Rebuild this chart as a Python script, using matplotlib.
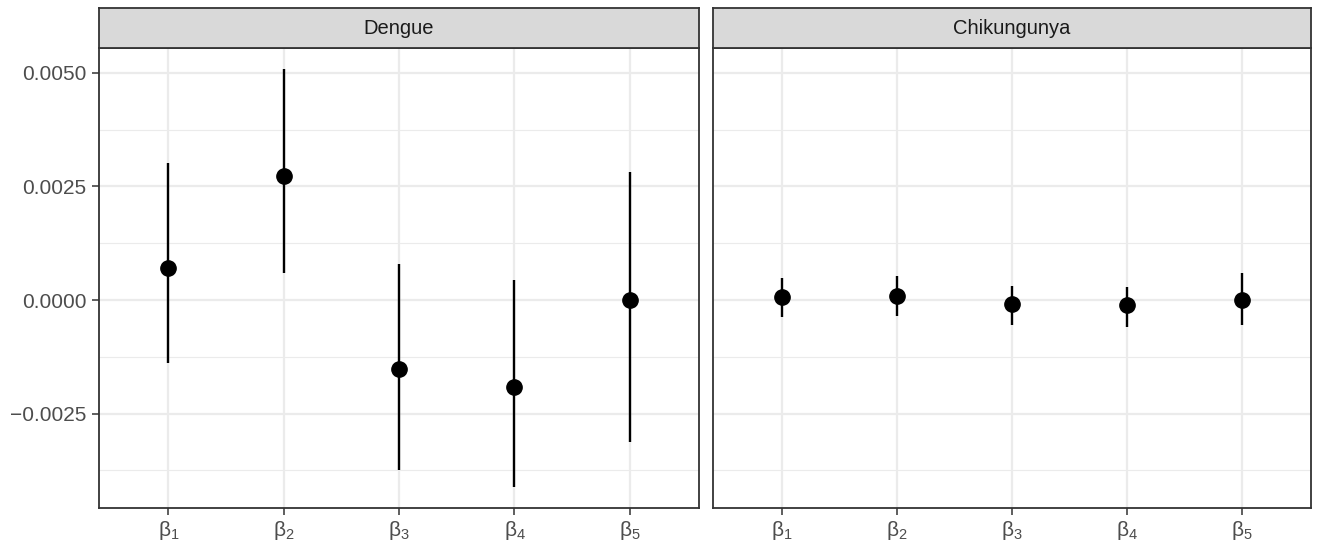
import matplotlib
matplotlib.use("Agg")
import matplotlib.pyplot as plt
import numpy as np

plt.rcParams['font.family'] = ['Liberation Sans', 'DejaVu Sans']
plt.rcParams['mathtext.fontset'] = 'custom'
plt.rcParams['mathtext.rm'] = 'Liberation Sans'
plt.rcParams['mathtext.it'] = 'Liberation Sans'

# data
params = [r'$\beta_1$', r'$\beta_2$', r'$\beta_3$', r'$\beta_4$', r'$\beta_5$']
panels = ['Dengue', 'Chikungunya']

dengue_est = [0.00071, 0.00273, -0.00152, -0.00192, 0.0]
dengue_lo = [-0.00139, 0.00059, -0.00374, -0.00412, -0.00313]
dengue_hi = [0.00302, 0.00509, 0.00079, 0.00044, 0.00282]

chik_est = [0.00007, 0.00009, -0.00009, -0.00011, -0.00001]
chik_lo = [-0.00037, -0.00035, -0.00054, -0.00059, -0.00056]
chik_hi = [0.00049, 0.00053, 0.00031, 0.00028, 0.00059]

y_major = [-0.0025, 0.0, 0.0025, 0.0050]
y_labels = ['\u22120.0025', '0.0000', '0.0025', '0.0050']
y_minor = [-0.00375, -0.00125, 0.00125, 0.00375]
y_lim = (-0.00458, 0.00555)

W, H = 1317, 546
fig = plt.figure(figsize=(W / 100, H / 100), dpi=100)

# pixel boxes (left, right) for each panel
boxes = [(99, 699), (713, 1311)]
p_top, p_bot, s_top = 48, 508, 8

series = [(dengue_est, dengue_lo, dengue_hi), (chik_est, chik_lo, chik_hi)]

for i, ((x0, x1), name, (est, lo, hi)) in enumerate(zip(boxes, panels, series)):
    ax = fig.add_axes([x0 / W, (H - p_bot) / H, (x1 - x0) / W, (p_bot - p_top) / H])
    sx = fig.add_axes([x0 / W, (H - p_top) / H, (x1 - x0) / W, (p_top - s_top) / H])

    xs = np.arange(1, len(params) + 1)
    ax.set_xlim(0.4, len(params) + 0.6)
    ax.set_ylim(*y_lim)

    for y in y_minor:
        ax.axhline(y, color='#EBEBEB', lw=0.8, zorder=0)
    for y in y_major:
        ax.axhline(y, color='#EBEBEB', lw=1.6, zorder=0)
    for x in xs:
        ax.axvline(x, color='#EBEBEB', lw=1.6, zorder=0)

    ax.vlines(xs, lo, hi, color='black', lw=1.7, zorder=2)
    ax.plot(xs, est, 'o', color='black', ms=11, zorder=3)

    ax.set_xticks(xs)
    ax.set_xticklabels(params)
    ax.set_yticks(y_major)
    if i == 0:
        ax.set_yticklabels(y_labels)
        ax.tick_params(axis='y', length=5, width=1.1, color='#333333',
                       labelsize=15, labelcolor='#4D4D4D', pad=4)
    else:
        ax.tick_params(axis='y', left=False, labelleft=False)
    ax.tick_params(axis='x', length=5, width=1.1, color='#333333',
                   labelsize=15, labelcolor='#4D4D4D', pad=3)
    for sp in ax.spines.values():
        sp.set_color('#333333')
        sp.set_linewidth(1.3)

    sx.set_facecolor('#D9D9D9')
    sx.set_xticks([])
    sx.set_yticks([])
    for sp in sx.spines.values():
        sp.set_color('#333333')
        sp.set_linewidth(1.3)
    sx.text(0.5, 0.5, name, ha='center', va='center', fontsize=14.5,
            color='#1A1A1A', transform=sx.transAxes)

fig.savefig('out.png', dpi=100)
